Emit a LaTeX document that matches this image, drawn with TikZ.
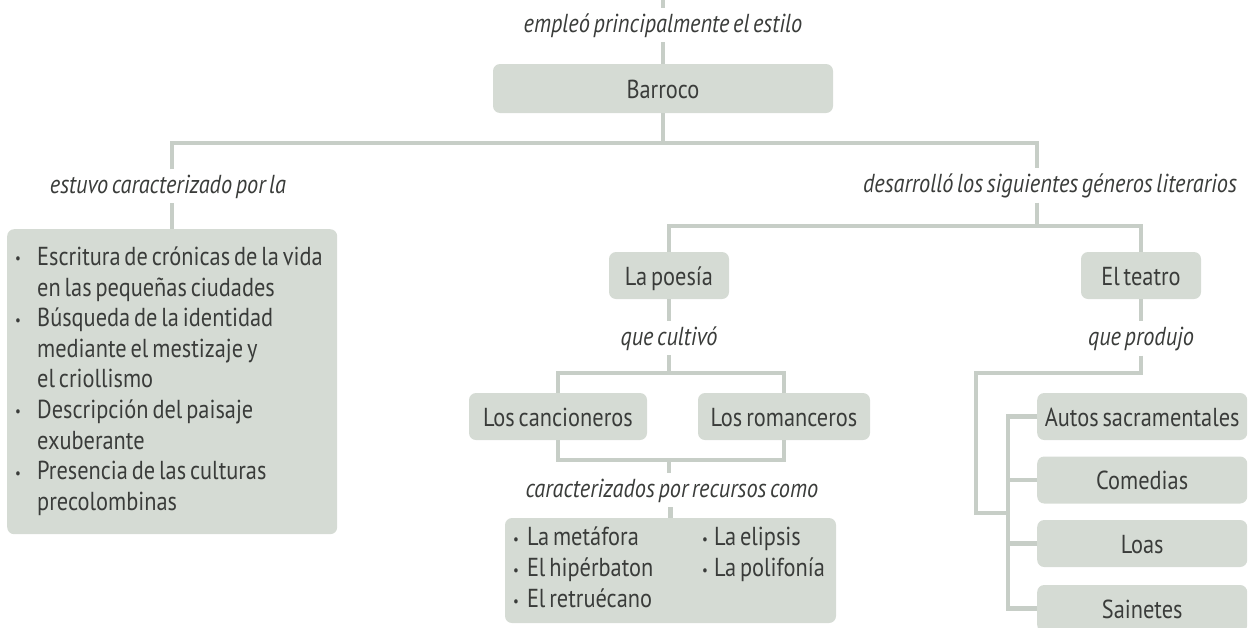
\documentclass[tikz,border=0pt]{standalone}
\usepackage{fontspec}
\setmainfont[FakeStretch=0.86, WordSpace=0.65]{PT Sans}
\newfontfamily\labfont[FakeStretch=0.86, WordSpace=0.6]{PT Sans}
\usetikzlibrary{calc}
\definecolor{boxfill}{RGB}{213,219,212}
\definecolor{linecol}{RGB}{199,206,199}
\definecolor{txt}{RGB}{58,60,58}
\newcommand\bul[1]{\makebox[#1][l]{\raisebox{1.5pt}{\fontsize{15}{15}\selectfont •}}}
\begin{document}
\begin{tikzpicture}[x=1pt,y=-1pt,
  box/.style={fill=boxfill, rounded corners=7pt, text=txt, inner sep=0pt,
    font=\fontsize{26}{30}\selectfont, text height=19pt, text depth=0pt},
  bigbox/.style={fill=boxfill, rounded corners=7pt, text=txt, inner sep=0pt,
    font=\fontsize{26}{30}\selectfont, align=left},
  lbl/.style={text=txt, font=\labfont\fontsize{26}{30}\selectfont\itshape, inner sep=5pt},
  conn/.style={draw=linecol, line width=4.5pt}
]
\useasboundingbox (0,0) rectangle (1248,627);

% nodes
\coordinate (top) at (663,0);
\node[lbl, anchor=base] (lab1) at (663,32) {empleó principalmente el estilo};
\node[box, minimum width=340, minimum height=49] (barroco) at (663,88.5) {Barroco};
\coordinate (jl) at (172,143);
\coordinate (jr) at (1037,143);
\node[lbl, anchor=base] (lab2) at (168,193) {estuvo caracterizado por la};
\node[lbl, anchor=base] (lab3) at (1050,192) {desarrolló los siguientes géneros literarios};
\node[bigbox, minimum width=330, minimum height=305, text width=314, anchor=north west] (lbox) at (7,229)
 {\spaceskip=0pt\xspaceskip=0pt\fontsize{26}{30.6}\selectfont\begin{tabular}{@{}l@{}l@{}}
 \bul{22pt} & Escritura de crónicas de la vida\\
  & en las pequeñas ciudades\\
 \bul{22pt} & Búsqueda de la identidad\\
  & mediante el mestizaje y\\
  & el criollismo\\
 \bul{22pt} & Descripción del paisaje\\
  & exuberante\\
 \bul{22pt} & Presencia de las culturas\\
  & precolombinas
 \end{tabular}};
\coordinate (pj) at (1037,226);
\node[box, minimum width=120, minimum height=47] (poesia) at (669,275.5) {La poesía};
\node[box, minimum width=120, minimum height=47] (teatro) at (1141,275.5) {El teatro};
\node[lbl, anchor=base] (lab4) at (669,345) {que cultivó};
\node[lbl, anchor=base] (lab6) at (1141,345) {que produjo};
\coordinate (cj) at (669,373);
\node[box, minimum width=178, minimum height=47] (canc) at (558,416.5) {Los cancioneros};
\node[box, minimum width=172, minimum height=47] (rom) at (784,416.5) {Los romanceros};
\coordinate (rj) at (669,460);
\node[lbl, anchor=base] (lab5) at (672,497) {caracterizados por recursos como};
\node[bigbox, minimum width=331, minimum height=105, text width=315] (rec) at (670.5,570.5)
 {\spaceskip=0pt\xspaceskip=0pt\fontsize{26}{31}\selectfont\begin{tabular}{@{}l@{}p{175pt}@{}l@{}l@{}}
 \bul{14pt} & La metáfora & \bul{12pt} & La elipsis\\
 \bul{14pt} & El hipérbaton & \bul{12pt} & La polifonía\\
 \bul{14pt} & El retruécano & & 
 \end{tabular}};
\coordinate (tj) at (976,373);
\coordinate (tk) at (976,513);
\coordinate (tm) at (1008,513);
\node[box, minimum width=210, minimum height=47, anchor=west] (autos) at (1037,416.5) {Autos sacramentales};
\node[box, minimum width=210, minimum height=47, anchor=west] (com) at (1037,480) {Comedias};
\node[box, minimum width=210, minimum height=47, anchor=west] (loas) at (1037,543.5) {Loas};
\node[box, minimum width=210, minimum height=47, anchor=west] (sain) at (1037,608.5) {Sainetes};

% connectors
\draw[conn] (top) -- (top |- lab1.north);
\draw[conn] (top |- lab1.south) -- (barroco.north);
\draw[conn] (barroco.south) -- (barroco.south |- jl);
\draw[conn] (lab2.north -| jl) -- (jl) -- (jr) -- (lab3.north -| jr);
\draw[conn] (lab2.south -| jl) -- (jl |- lbox.north);
\draw[conn] (lab3.south -| pj) -- (pj);
\draw[conn] (poesia.north) -- (poesia.north |- pj) -- (teatro.north |- pj) -- (teatro.north);
\draw[conn] (poesia.south) -- (poesia.south |- lab4.north);
\draw[conn] (lab4.south -| cj) -- (cj);
\draw[conn] (canc.north) -- (canc.north |- cj) -- (rom.north |- cj) -- (rom.north);
\draw[conn] (canc.south) -- (canc.south |- rj) -- (rom.south |- rj) -- (rom.south);
\draw[conn] (rj) -- (rj |- lab5.north);
\draw[conn] (lab5.south -| rec.north) -- (rec.north);
\draw[conn] (teatro.south) -- (teatro.south |- lab6.north);
\draw[conn] (lab6.south -| teatro) -- (teatro |- tj) -- (tj) -- (tk) -- (tm);
\draw[conn] (autos.west) -- (autos.west -| tm) -- (sain.west -| tm) -- (sain.west);
\draw[conn] (com.west) -- (com.west -| tm);
\draw[conn] (loas.west) -- (loas.west -| tm);
\end{tikzpicture}
\end{document}
